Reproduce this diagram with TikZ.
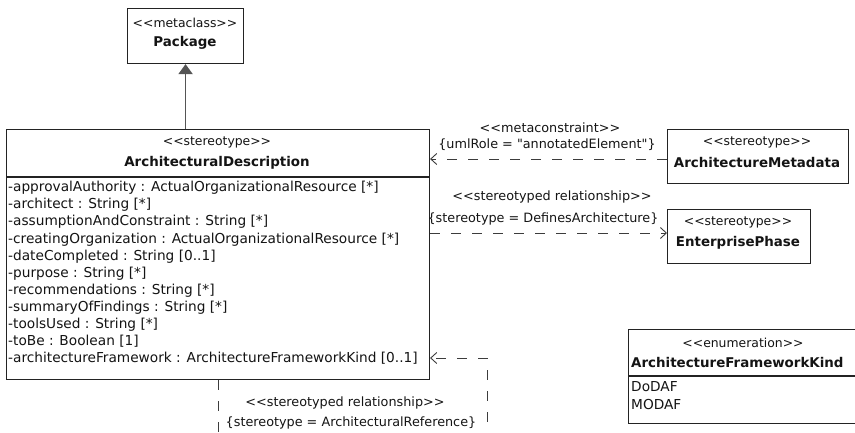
\documentclass[tikz,border=0pt]{standalone}
\usepackage{fontspec}
\setmainfont{DejaVu Sans}
\usetikzlibrary{arrows.meta,positioning,calc}
\definecolor{UMLline}{RGB}{35,35,35}
\definecolor{GenArrow}{RGB}{85,85,85}
\definecolor{DepLine}{RGB}{60,60,60}
\definecolor{UMLtext}{RGB}{20,20,20}
\newcommand\stereotxt[1]{<{}<#1>{}>}
\tikzset{
  classbox/.style={draw=UMLline,line width=1.1pt,fill=white,anchor=north west,inner sep=0pt},
  stereo/.style={inner sep=0pt,text=UMLtext,font=\fontsize{12.4}{15}\selectfont},
  cname/.style={inner sep=0pt,text=UMLtext,font=\fontsize{13.4}{16}\selectfont\bfseries},
  attr/.style={inner sep=0pt,anchor=mid west,text=UMLtext,font=\fontsize{13.7}{16}\selectfont},
  rel/.style={inner sep=0pt,text=UMLtext,font=\fontsize{12.8}{15}\selectfont},
  gen/.style={-{Triangle[length=10pt,width=14pt]},line width=1.8pt,GenArrow},
  dep/.style={-{Straight Barb[length=6pt,width=11pt]},dash pattern=on 10pt off 11pt,
              line width=0.9pt,DepLine},
}

\begin{document}
\begin{tikzpicture}[x=1pt,y=-1pt]
  \useasboundingbox (0,0) rectangle (855,433);
  \clip (0,0) rectangle (855,433);

  % class boxes
  \node[classbox,minimum width=116pt,minimum height=55pt] (pkg) at (127,8) {};
  \node[classbox,minimum width=423pt,minimum height=250pt] (ad) at (6,129) {};
  \node[classbox,minimum width=181pt,minimum height=54pt] (meta) at (667,129) {};
  \node[classbox,minimum width=143pt,minimum height=54pt] (phase) at (667,209) {};
  \node[classbox,minimum width=240pt,minimum height=94pt] (afk) at (628,329) {};

  \coordinate (adsep) at (0,177);
  \coordinate (afksep) at (0,376);
  \draw[UMLline,line width=1.1pt] (ad.west |- adsep) -- (ad.east |- adsep);
  \draw[UMLline,line width=1.1pt] (afk.west |- afksep) -- (afk.east |- afksep);

  \node[stereo] (pkgst) at (185,23) {\stereotxt{metaclass}};
  \node[cname] (pkgname) at (185,43) {Package};

  \node[stereo] (adst) at (217,142) {\stereotxt{stereotype}};
  \node[cname] (adname) at (217,163) {ArchitecturalDescription};
  \foreach \attrtext [count=\k from 0] in {
      {-approvalAuthority : ActualOrganizationalResource [*]},
      {-architect : String [*]},
      {-assumptionAndConstraint : String [*]},
      {-creatingOrganization : ActualOrganizationalResource [*]},
      {-dateCompleted : String [0..1]},
      {-purpose : String [*]},
      {-recommendations : String [*]},
      {-summaryOfFindings : String [*]},
      {-toolsUsed : String [*]},
      {-toBe : Boolean [1]},
      {-architectureFramework : ArchitectureFrameworkKind [0..1]}}
    \node[attr] (attr\k) at (8,{189+17.1*\k}) {\attrtext};

  \node[stereo] (metast) at (757,142) {\stereotxt{stereotype}};
  \node[cname] (metaname) at (757,163) {ArchitectureMetadata};

  \node[stereo] (phasest) at (738,222) {\stereotxt{stereotype}};
  \node[cname] (phasename) at (738,243) {EnterprisePhase};

  \node[stereo] (afkst) at (743,343) {\stereotxt{enumeration}};
  \node[cname,anchor=west] (afkname) at (631,363) {ArchitectureFrameworkKind};
  \node[attr] (dodaf) at (631,389) {DoDAF};
  \node[attr] (modaf) at (631,407) {MODAF};

  % generalization
  \draw[gen] (pkg.south |- ad.north) -- (pkg.south);

  % metaconstraint
  \coordinate (mcrow) at (0,159);
  \draw[dep] (meta.west |- mcrow) -- (ad.east |- mcrow);
  \node[rel] (mclabel) at (550,128) {\stereotxt{metaconstraint}};
  \node[rel] (mcrole) at (547,145) {\{umlRole = \textquotedbl annotatedElement\textquotedbl\}};

  % defines architecture
  \coordinate (darow) at (0,233);
  \draw[dep] (ad.east |- darow) -- (phase.west |- darow);
  \node[rel] (dalabel) at (552,197) {\stereotxt{stereotyped relationship}};
  \node[rel] (dastereo) at (543,219) {\{stereotype = DefinesArchitecture\}};

  % architectural reference (self loop)
  \coordinate (loopcorner) at (487,445);
  \coordinate (looprow) at (0,358);
  \draw[dep] (ad.south) |- (loopcorner) |- (ad.east |- looprow);
  \node[rel] (arlabel) at (345,403) {\stereotxt{stereotyped relationship}};
  \node[rel] (arstereo) at (351,423) {\{stereotype = ArchitecturalReference\}};
\end{tikzpicture}
\end{document}
